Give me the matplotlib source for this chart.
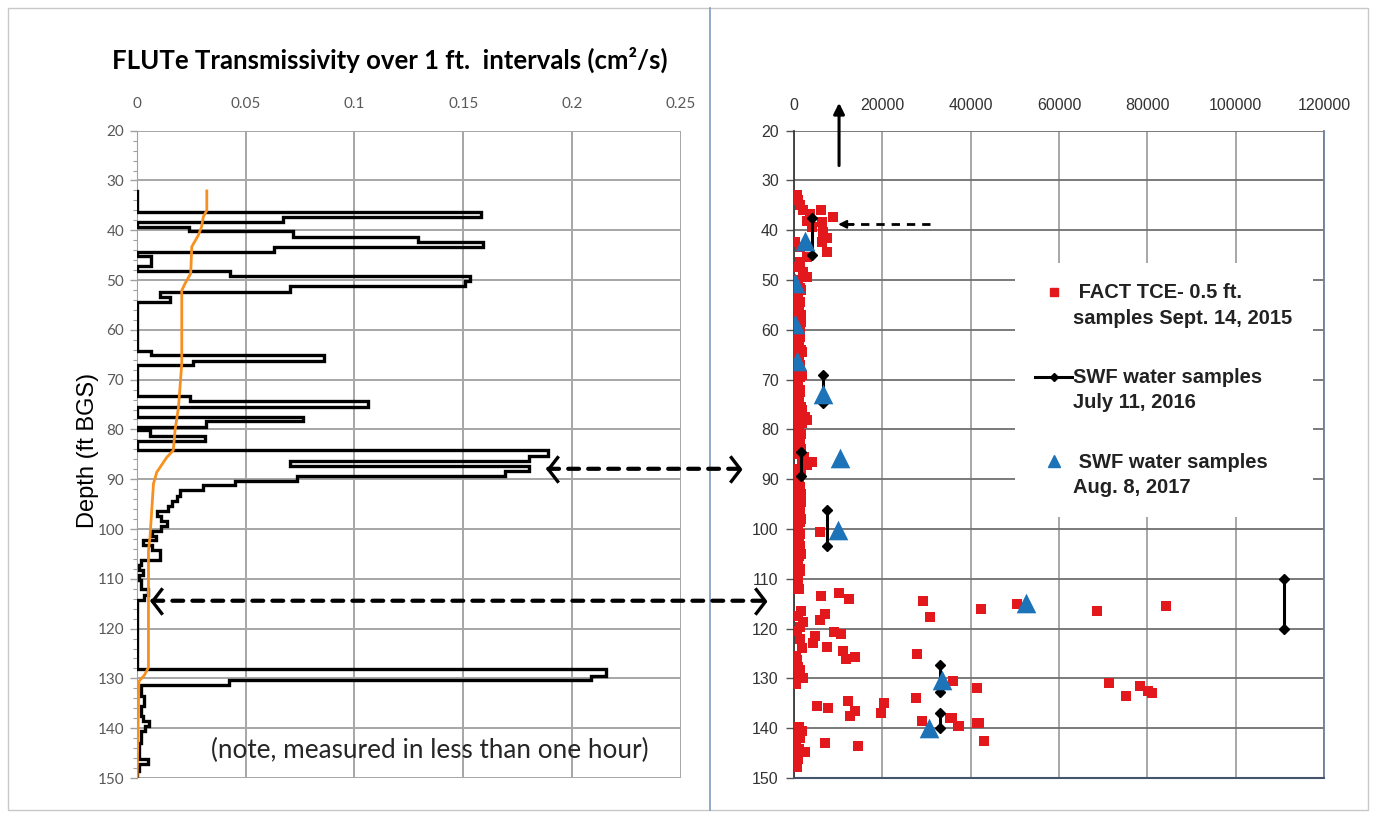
import numpy as np
import matplotlib.pyplot as plt
from matplotlib.path import Path
from matplotlib.patches import ConnectionPatch, Rectangle
from matplotlib.lines import Line2D

# ---- FLUTe transmissivity profile (interval top depth in ft, value cm2/s) ----
flute_top = [32.1, 36.3, 37.3, 38.3, 39.3, 40.2, 41.3, 42.3, 43.3, 44.3, 45.2, 47.2,
             48.2, 49.2, 50.2, 51.2, 52.4, 53.4, 54.4, 64.3, 65.1, 66.3, 67.1, 73.2,
             74.3, 75.4, 77.4, 78.3, 79.6, 80.2, 81.4, 82.4, 84.2, 85.3, 86.4, 87.3,
             88.3, 89.3, 90.3, 91.1, 92.2, 93.3, 94.3, 95.3, 96.3, 97.3, 98.3, 99.3,
             100.3, 101.3, 102.3, 103.2, 104.3, 106.2, 107.2, 108.3, 109.2, 110.3,
             112.0, 113.2, 114.3, 128.2, 129.5, 130.4, 131.3, 133.5, 135.5, 137.5,
             138.6, 139.6, 140.6, 143.0, 146.2, 147.2, 148.5]
flute_T = [0.0, 0.158, 0.067, 0.0, 0.024, 0.072, 0.129, 0.159, 0.063, 0.0, 0.0066, 0.0,
           0.043, 0.153, 0.151, 0.0705, 0.0107, 0.0153, 0.0, 0.0066, 0.0858, 0.026, 0.0, 0.0245,
           0.1064, 0.0, 0.0763, 0.032, 0.0, 0.0061, 0.0314, 0.0, 0.189, 0.180, 0.0705, 0.180,
           0.169, 0.0738, 0.0452, 0.0306, 0.0199, 0.0184, 0.016, 0.0145, 0.0092, 0.011, 0.014, 0.011,
           0.0072, 0.009, 0.003, 0.0072, 0.0107, 0.002, 0.001, 0.003, 0.001, 0.002,
           0.0054, 0.0035, 0.0, 0.2156, 0.2085, 0.0423, 0.002, 0.0035, 0.002, 0.003,
           0.0055, 0.004, 0.002, 0.001, 0.005, 0.001, 0.0]
flute_bottom = 150.0

# ---- orange trend line ----
trend_depth = [32.1, 36.0, 37.3, 39.3, 41.0, 43.3, 48.7, 50.7, 52.1, 61.4, 66.8, 75.5,
               80.2, 84.2, 85.6, 88.6, 90.9, 101.7, 104.3, 127.8, 129.3, 130.6, 150.0]
trend_T = [0.0322, 0.0322, 0.0306, 0.0298, 0.0283, 0.0253, 0.0248, 0.0222, 0.0207, 0.0207,
           0.0207, 0.0192, 0.0176, 0.0168, 0.0138, 0.0092, 0.0077, 0.0061, 0.0054, 0.0054,
           0.0036, 0.0010, 0.0002]

# ---- FACT TCE 0.5 ft samples, Sept. 14, 2015 ----
tce_depth = [33.0, 34.0, 35.0, 35.9, 36.0, 36.7, 37.4, 38.1, 38.4, 39.4, 40.4, 41.5,
             42.4, 42.4, 43.4, 44.4, 45.4, 46.4, 47.4, 48.4, 49.4,
             50.0, 51.0, 52.0, 53.0, 54.0, 55.0, 56.0, 57.0, 58.0, 59.0, 60.0, 61.0,
             62.0, 63.0, 64.0, 65.0, 66.0, 67.0, 68.0, 69.0, 70.0, 71.0, 72.0, 73.0,
             74.0, 75.0, 76.0, 77.0, 77.5, 78.2, 79.0, 80.0, 81.0, 82.0, 83.0, 84.0,
             85.0, 86.0, 86.5, 87.1, 88.0, 89.0, 90.0, 91.0, 92.0, 93.0, 94.0, 95.0,
             96.0, 97.0, 98.0, 99.0, 100.0, 100.6, 101.0, 102.0, 103.0, 104.0, 105.0,
             106.0, 107.0, 108.0, 109.0, 110.0, 111.0, 112.0,
             50.5, 51.5, 52.5, 53.5, 54.5, 55.5, 56.5, 57.5, 58.5, 59.5, 60.5, 61.5,
             62.5, 63.5, 64.5, 65.5, 66.5, 67.5, 68.5, 69.5, 70.5, 71.5, 72.5, 73.5,
             74.5, 75.5, 76.5, 78.7, 79.5, 80.5, 81.5, 82.5, 83.5, 84.5, 85.5, 88.5,
             89.5, 90.5, 91.5, 92.5, 93.5, 94.5, 95.5, 96.5, 97.5, 98.5, 99.5, 101.5,
             102.5, 103.5, 104.5, 105.5, 106.5, 107.5, 108.5, 109.5, 110.5, 111.5,
             112.9, 113.5, 114.0, 114.5, 115.0, 115.5, 116.0, 116.4, 117.0, 117.6,
             118.2, 118.6, 119.6, 120.6, 121.1, 121.5, 122.0, 122.8, 123.7, 123.8,
             124.4, 125.1, 125.7, 126.1, 126.3, 128.3, 130.0, 130.5, 131.0, 131.5,
             132.0, 132.5, 133.0, 133.5, 134.0, 134.5, 135.0, 135.5, 136.0, 136.5,
             137.0, 137.6, 138.0, 138.0, 138.6, 139.0, 139.0, 139.5, 139.5, 142.5,
             142.9, 143.5,
             116.5, 117.5, 120.5, 125.5, 127.0, 127.8, 129.2, 131.2, 139.8, 140.5,
             141.2, 142.0, 142.8, 143.5, 144.2, 144.8, 145.5, 146.2, 147.0, 147.8]
tce_conc = [600, 970, 1360, 6040, 2110, 3620, 8760, 2870, 6270, 4010, 6500, 7400,
            6270, 230, 1360, 7400, 2870, 1360, 600, 2110, 2870,
            900, 400, 1500, 600, 300, 1100, 500, 1600, 400, 800, 1400, 300,
            1100, 500, 1500, 800, 300, 1300, 600, 1700, 400, 900, 1400, 500,
            1100, 300, 1800, 700, 2490, 2870, 1200, 500, 1600, 900, 400, 1500,
            800, 1800, 4010, 2870, 600, 1400, 300, 1100, 500, 1500, 800, 400,
            1300, 600, 1600, 300, 900, 5890, 1400, 500, 1100, 300, 1500,
            800, 400, 1300, 600, 1000, 300, 1100,
            500, 1300, 800, 300, 1400, 600, 1100, 400, 1500, 500, 900, 1300,
            400, 800, 1700, 500, 1100, 600, 300, 1400, 800, 500, 1300, 900,
            400, 1500, 600, 1800, 1100, 500, 1400, 800, 1300, 600, 2200, 1600,
            900, 500, 1300, 800, 400, 1500, 600, 1100, 500, 1400, 800, 900,
            500, 1300, 600, 1100, 400, 800, 1400, 500, 900, 600,
            10260, 6040, 12530, 29130, 50420, 84150, 42270, 68530, 6940, 30790,
            5890, 2110, 1360, 9060, 10570, 4750, 1360, 4380, 7400, 1740,
            11030, 27780, 13880, 11770, 600, 1360, 2110, 35930, 71390, 78330,
            41360, 80210, 80980, 75160, 27620, 12300, 20380, 5140, 7770, 13810,
            19770, 12680, 35320, 35700, 28910, 41960, 41360, 37420, 37200, 43090,
            7020, 14420,
            1500, 800, 700, 400, 300, 800, 1000, 500, 1200, 1800,
            700, 1400, 500, 300, 1200, 2400, 500, 1000, 300, 600]

# ---- SWF water samples, July 11, 2016 (sampled intervals) ----
swf16_conc = [4000, 1500, 6500, 7500, 33000, 33000, 111000]
swf16_top = [37.6, 84.5, 69.1, 96.2, 127.3, 137.0, 110.0]
swf16_bottom = [45.0, 89.3, 74.6, 103.5, 132.7, 140.0, 120.0]

# ---- SWF water samples, Aug. 8, 2017 ----
swf17_depth = [42.1, 50.6, 58.8, 66.3, 72.8, 85.8, 100.2, 114.9, 130.3, 140.0]
swf17_conc = [2500, 300, 300, 700, 6500, 10500, 9900, 52600, 33500, 30600]

left_xticks = [0, 0.05, 0.1, 0.15, 0.2, 0.25]
right_xticks = [0, 20000, 40000, 60000, 80000, 100000, 120000]
depth_ticks = list(range(20, 151, 10))

RED = '#E2181C'
BLUE = '#1C73B8'
ORANGE = '#F7901E'
LEFT_FONT = 'Lato'
RIGHT_FONT = 'Liberation Sans'

fig = plt.figure(figsize=(13.76, 8.17), dpi=100)
W, H = 1376.0, 817.0

# frame and divider
fig.add_artist(Rectangle((8 / W, 1 - 810 / H), 1360 / W, 802 / H, transform=fig.transFigure,
                         fill=False, edgecolor='#C8C8C8', lw=1.0))
fig.add_artist(Line2D([710 / W, 710 / W], [1 - 810 / H, 1 - 8 / H], transform=fig.transFigure,
                      color='#7F9BBE', lw=1.2))

# ================= left panel =================
ax1 = fig.add_axes([136.7 / W, 1 - 778 / H, 544.3 / W, 647.3 / H])
ax1.set_xlim(0, 0.25)
ax1.set_ylim(150, 20)
ax1.set_xticks(left_xticks)
ax1.set_xticklabels(['{:g}'.format(t) for t in left_xticks])
ax1.set_yticks(depth_ticks)
ax1.set_yticks(range(20, 151, 2), minor=True)
ax1.xaxis.tick_top()
ax1.tick_params(axis='x', length=0, pad=14, labelsize=11, labelcolor='#595959')
ax1.tick_params(axis='y', which='major', length=5, width=1, color='#A0A0A0', pad=4,
                labelsize=11, labelcolor='#595959')
ax1.tick_params(axis='y', which='minor', length=3, width=0.8, color='#A0A0A0')
for lab in ax1.get_xticklabels() + ax1.get_yticklabels():
    lab.set_family(LEFT_FONT)
for s in ['top', 'right', 'bottom']:
    ax1.spines[s].set_visible(False)
ax1.spines['left'].set_color('#A0A0A0')
ax1.grid(True, which='major', color='#A6A6A6', lw=1.4)
ax1.set_axisbelow(True)

xs, ys = [], []
bottoms = flute_top[1:] + [flute_bottom]
for top, bot, val in zip(flute_top, bottoms, flute_T):
    xs += [val, val]
    ys += [top, bot]
ax1.plot(xs, ys, color='black', lw=2.4, solid_joinstyle='miter', zorder=3)
ax1.plot(trend_T, trend_depth, color=ORANGE, lw=2.0, zorder=4)

ax1.text(0.465, 1.109, 'FLUTe Transmissivity over 1 ft.  intervals (cm\u00b2/s)', transform=ax1.transAxes,
         ha='center', va='center', fontsize=18.5, fontweight='bold', family=LEFT_FONT)
ax1.text(0.034, 144.4, '(note, measured in less than one hour)', ha='left', va='center',
         fontsize=18.8, color='#262626', family=LEFT_FONT)
fig.text(88 / W, 1 - 450 / H, 'Depth (ft BGS)', rotation=90, ha='center', va='center',
         fontsize=17, family=RIGHT_FONT, color='black')

# ================= right panel =================
ax2 = fig.add_axes([794 / W, 1 - 778 / H, 530 / W, 647.3 / H])
ax2.set_xlim(0, 120000)
ax2.set_ylim(150, 20)
ax2.set_xticks(right_xticks)
ax2.set_yticks(depth_ticks)
ax2.xaxis.tick_top()
ax2.tick_params(axis='x', length=0, pad=13, labelsize=11.5, labelcolor='#333333')
ax2.tick_params(axis='y', length=6, width=1, color='#555555', pad=5, labelsize=11.5,
                labelcolor='#333333')
for lab in ax2.get_xticklabels() + ax2.get_yticklabels():
    lab.set_family(RIGHT_FONT)
ax2.spines['top'].set_visible(False)
ax2.spines['left'].set_color('#3A3A3A')
ax2.spines['left'].set_linewidth(1.3)
ax2.spines['bottom'].set_color('#44546A')
ax2.spines['bottom'].set_linewidth(1.5)
ax2.spines['right'].set_color('#6A7F9E')
ax2.spines['right'].set_linewidth(1.3)
ax2.yaxis.grid(True, color='#707070', lw=1.3)
ax2.xaxis.grid(True, color='#A0A0A0', lw=1.3)
ax2.set_axisbelow(True)

for c, t, b in zip(swf16_conc, swf16_top, swf16_bottom):
    ax2.plot([c, c], [t, b], color='black', lw=2.2, marker='D', ms=5, zorder=4)
ax2.scatter(tce_conc, tce_depth, marker='s', s=42, color=RED, lw=0, zorder=3)
ax2.scatter(swf17_conc, swf17_depth, marker='^', s=200, color=BLUE, lw=0, zorder=5)

# arrows on right panel
ax2.annotate('', xy=(10200, 14.4), xytext=(10200, 27.0), annotation_clip=False,
             arrowprops=dict(arrowstyle='-|>', color='black', lw=2.2, mutation_scale=16,
                             shrinkA=0, shrinkB=0))
ax2.plot([30800, 10500], [38.8, 38.8], color='black', lw=2.0, ls=(0, (3, 2.5)), zorder=4)
ax2.annotate('', xy=(10000, 38.8), xytext=(13500, 38.8),
             arrowprops=dict(arrowstyle='-|>', color='black', lw=1.5, mutation_scale=12,
                             shrinkA=0, shrinkB=0), zorder=4)

# long dashed double arrows linking panels
chev_left = Path([(0.77, 1), (0, 0), (0.77, -1)], [Path.MOVETO, Path.LINETO, Path.LINETO])
chev_right = Path([(-0.77, 1), (0, 0), (-0.77, -1)], [Path.MOVETO, Path.LINETO, Path.LINETO])
for lx, rx, d in [(0.189, -12230, 87.9), (0.0072, -6570, 114.4)]:
    con = ConnectionPatch(xyA=(lx, d), coordsA=ax1.transData, xyB=(rx, d), coordsB=ax2.transData,
                          color='black', lw=3.0, linestyle=(0, (2.6, 2.2)), zorder=6)
    fig.add_artist(con)
    ax1.plot([lx], [d], marker=chev_left, ms=19, mew=2.4, color='black', fillstyle='none',
             clip_on=False, zorder=6)
    ax2.plot([rx], [d], marker=chev_right, ms=19, mew=2.4, color='black', fillstyle='none',
             clip_on=False, zorder=6)

handles = [Line2D([], [], marker='s', ms=6, color=RED, ls='none'),
           Line2D([], [], marker='D', ms=4.5, color='black', lw=2.2),
           Line2D([], [], marker='^', ms=8, color=BLUE, ls='none')]
labels = [' FACT TCE- 0.5 ft.\nsamples Sept. 14, 2015',
          'SWF water samples\nJuly 11, 2016',
          ' SWF water samples\nAug. 8, 2017']
leg = ax2.legend(handles, labels, loc='upper left', bbox_to_anchor=(0.417, 0.7956),
                 frameon=True, fancybox=False, framealpha=1, edgecolor='none',
                 borderpad=1.0, borderaxespad=0, labelspacing=2.0, handlelength=1.85,
                 handletextpad=0.05, prop={'family': RIGHT_FONT, 'weight': 'bold', 'size': 14.5})
for t in leg.get_texts():
    t.set_color('#222222')
    t.set_linespacing(1.43)
# put each legend symbol level with the first line of its label
for h in leg.legend_handles:
    h.set_ydata(np.asarray(h.get_ydata(), dtype=float) + 10.0)

fig.savefig('out.png', dpi=100, facecolor='white')
